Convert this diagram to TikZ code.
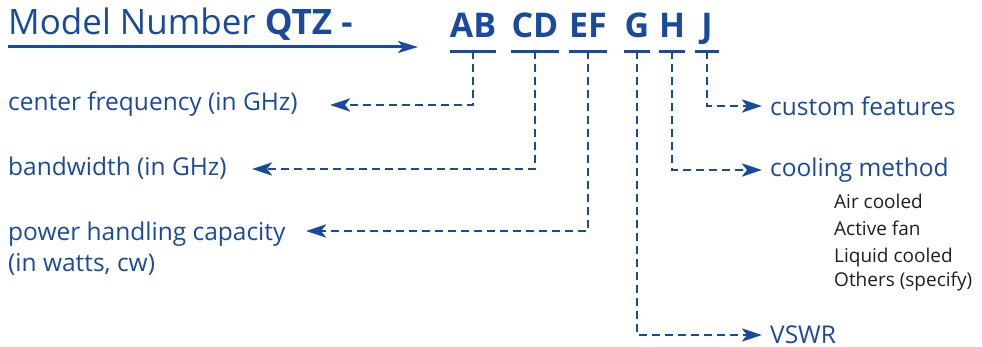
\documentclass[tikz,border=0pt]{standalone}
\usepackage{fontspec}
\setmainfont{Open Sans}
\usetikzlibrary{arrows.meta,positioning}
\definecolor{qblue}{RGB}{26,74,158}
\definecolor{qtext}{RGB}{30,30,30}
\tikzset{
    title text/.style={
        anchor=base west, inner sep=0pt, text=qblue,
        font=\fontsize{35}{40}\selectfont
    },
    code/.style={
        anchor=base, inner xsep=0pt, inner ysep=0pt, text depth=0pt,
        minimum width=24pt, text=qblue,
        font=\fontsize{34}{40}\selectfont\bfseries
    },
    code line/.style={
        draw=qblue, line width=3pt
    },
    field/.style={
        anchor=west, inner sep=0pt, text=qblue, align=left,
        font=\fontsize{24.5}{31}\selectfont
    },
    option/.style={
        anchor=base west, inner sep=0pt, text=qtext,
        font=\fontsize{19}{26}\selectfont
    },
    lead/.style={
        draw=qblue, line width=3pt,
        -{Stealth[length=20pt,width=12pt,inset=5pt]}
    },
    conn/.style={
        draw=qblue, line width=2.8pt, dash pattern=on 8pt off 5pt,
        -{Stealth[length=20pt,width=13pt,inset=5pt]}
    }
}
\begin{document}
\begin{tikzpicture}[x=1pt,y=-1pt]
    \useasboundingbox (0,0) rectangle (982,347);
    % heading
    \node[title text] (title) at (8,35) {Model Number \textbf{QTZ -}};
    \coordinate (title-tip) at (418,47);
    \draw[lead] ([yshift=-12pt]title.base west) -- (title-tip);
    % code groups
    \node[code] (ab) at (473,38) {AB};
    \node[code] (cd) at (535,38) {CD};
    \node[code] (ef) at (588,38) {EF};
    \node[code] (g) at (637,38) {G};
    \node[code] (h) at (672,38) {H};
    \node[code] (j) at (707,38) {J};
    \foreach \c in {ab,cd,ef,g,h,j}
        \draw[code line] ([yshift=-13pt]\c.south west) -- ([yshift=-13pt]\c.south east);
    % fields on the left
    \node[field] (freq) at (8,104) {center frequency (in GHz)};
    \node[field] (bw) at (8,168) {bandwidth (in GHz)};
    \node[field, anchor=base west] (power) at (8,272) {power handling capacity\\(in watts, cw)};
    \coordinate (freq-tip) at (330,105);
    \coordinate (bw-tip) at (252,169);
    \coordinate (power-tip) at (306,231);
    % fields on the right
    \node[field, inner xsep=8pt] (custom) at (762,106) {custom features};
    \node[field, inner xsep=8pt] (cooling) at (762,170) {cooling method};
    \node[field, inner xsep=8pt] (vswr) at (762,335) {VSWR};
    \node[option] (air) at (834,209) {Air cooled};
    \node[option, below=27pt of air.base west, anchor=base west] (fan) {Active fan};
    \node[option, below=26pt of fan.base west, anchor=base west] (liquid) {Liquid cooled};
    \node[option, below=25pt of liquid.base west, anchor=base west] (others) {Others (specify)};
    % connectors
    \draw[conn] ([yshift=-13pt]ab.south) |- (freq-tip);
    \draw[conn] ([yshift=-13pt]cd.south) |- (bw-tip);
    \draw[conn] ([yshift=-13pt]ef.south) |- (power-tip);
    \draw[conn] ([yshift=-13pt]g.south) |- (vswr);
    \draw[conn] ([yshift=-13pt]h.south) |- (cooling);
    \draw[conn] ([yshift=-13pt]j.south) |- (custom);
\end{tikzpicture}
\end{document}
